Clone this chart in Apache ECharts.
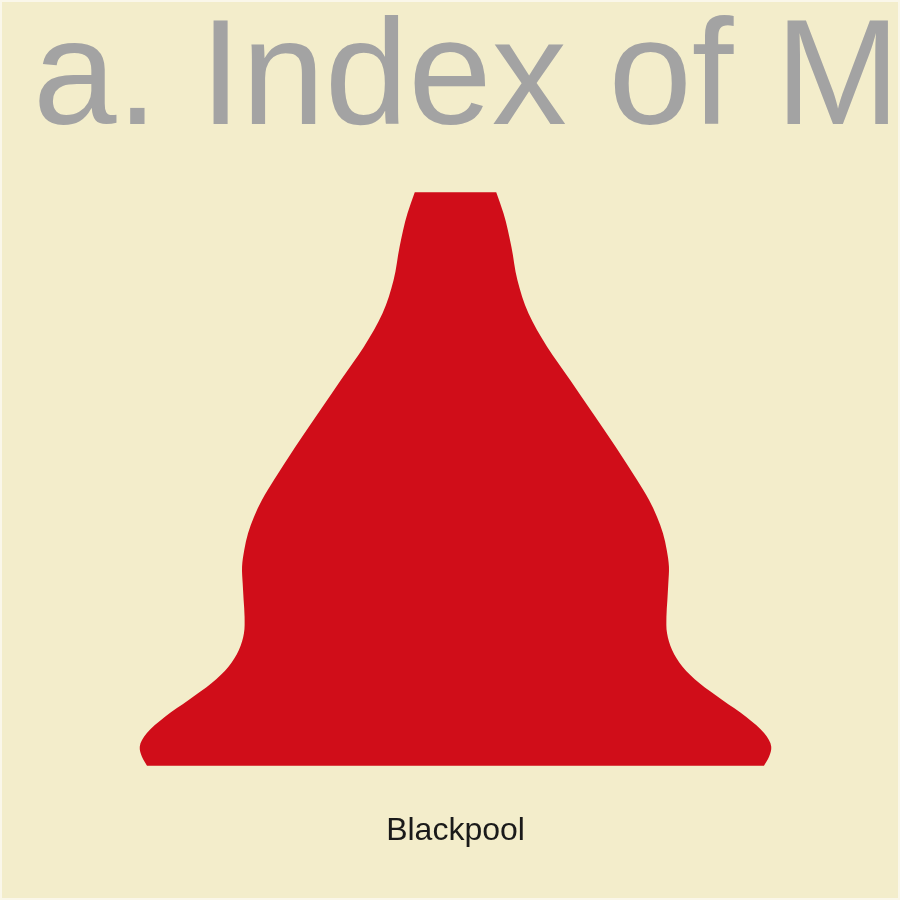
<!DOCTYPE html>
<html>
<head>
<meta charset="UTF-8">
<title>Blackpool violin</title>
<style>
html, body { margin: 0; padding: 0; background: #F3EDCB; }
#main { width: 900px; height: 900px; }
</style>
</head>
<body>
<div id="main"></div>
<script src="https://cdn.jsdelivr.net/npm/echarts@6/dist/echarts.min.js"></script>
<script>
var titleText = 'a. Index of M';
var categories = ['Blackpool'];

// score levels (bottom -> top) and relative density (1 = widest point)
var scoreLevels = [10.00, 11.10, 12.32, 13.96, 15.98, 18.02, 20.06, 22.09, 24.12, 26.16,
	28.19, 30.23, 32.27, 34.29, 36.33, 38.37, 40.40, 42.44, 44.88, 48.94,
	53.02, 57.09, 61.15, 65.23, 69.30, 73.36, 77.44, 80.00];
var densities = [0.977, 0.993, 1.000, 0.978, 0.920, 0.845, 0.773, 0.719, 0.686, 0.670,
	0.668, 0.671, 0.674, 0.676, 0.669, 0.657, 0.638, 0.613, 0.575, 0.507,
	0.435, 0.363, 0.290, 0.231, 0.196, 0.177, 0.152, 0.129];

var yMin = 6.5, yMax = 83.5;

// smooth edge, x as a function of y (cubic hermite -> bezier)
function edgePath(pts) {
	var n = pts.length;
	var d = [], m = [];
	for (var i = 0; i < n - 1; i++) {
		d.push((pts[i + 1][0] - pts[i][0]) / (pts[i + 1][1] - pts[i][1]));
	}
	for (var i = 0; i < n; i++) {
		if (i === 0) m.push(d[0]);
		else if (i === n - 1) m.push(d[n - 2]);
		else {
			var h0 = pts[i][1] - pts[i - 1][1], h1 = pts[i + 1][1] - pts[i][1];
			m.push((h1 * d[i - 1] + h0 * d[i]) / (h0 + h1));
		}
	}
	var s = '';
	for (var i = 0; i < n - 1; i++) {
		var h = pts[i + 1][1] - pts[i][1];
		s += ' C' + (pts[i][0] + m[i] * h / 3).toFixed(2) + ',' + (pts[i][1] + h / 3).toFixed(2)
			+ ' ' + (pts[i + 1][0] - m[i + 1] * h / 3).toFixed(2) + ',' + (pts[i + 1][1] - h / 3).toFixed(2)
			+ ' ' + pts[i + 1][0].toFixed(2) + ',' + pts[i + 1][1].toFixed(2);
	}
	return s;
}

function renderViolin(params, api) {
	var cat = api.value(0);
	var band = api.size([1, 0])[0];
	var cx = api.coord([cat, yMin])[0];
	var halfMax = band * 0.45 / 1.2;
	var right = scoreLevels.map(function (s, i) {
		var p = api.coord([cat, s]);
		return [cx + densities[i] * halfMax, p[1]];
	});
	var left = right.map(function (p) { return [2 * cx - p[0], p[1]]; }).reverse();
	var d = 'M' + right[0][0].toFixed(2) + ',' + right[0][1].toFixed(2) + edgePath(right)
		+ ' L' + left[0][0].toFixed(2) + ',' + left[0][1].toFixed(2) + edgePath(left) + ' Z';
	return {
		type: 'path',
		shape: { pathData: d },
		style: { fill: '#D00D19' }
	};
}

var myChart = echarts.init(document.getElementById('main'));
myChart.setOption({
	backgroundColor: '#F3EDCB',
	animation: false,
	title: {
		text: titleText,
		left: 28,
		top: 3,
		textStyle: {
			fontFamily: 'Liberation Sans, Arial, sans-serif',
			fontSize: 150,
			fontWeight: 'normal',
			color: '#A3A3A3'
		}
	},
	graphic: [{
		type: 'rect',
		shape: { x: 1, y: 1, width: 898, height: 898 },
		style: { fill: 'none', stroke: '#FAF7EA', lineWidth: 2 },
		silent: true
	}],
	grid: { left: 34.5, right: 23.5, top: 163.6, bottom: 105.6 },
	xAxis: {
		type: 'category',
		data: categories,
		axisLine: { show: false },
		axisTick: { show: false },
		splitLine: { show: false },
		axisLabel: {
			margin: 21,
			fontFamily: 'Liberation Sans, Arial, sans-serif',
			fontSize: 32,
			color: '#1A1A1A'
		}
	},
	yAxis: {
		type: 'value',
		min: yMin,
		max: yMax,
		show: false
	},
	series: [{
		type: 'custom',
		renderItem: renderViolin,
		data: [[0]],
		encode: { x: 0 }
	}]
});
</script>
</body>
</html>
